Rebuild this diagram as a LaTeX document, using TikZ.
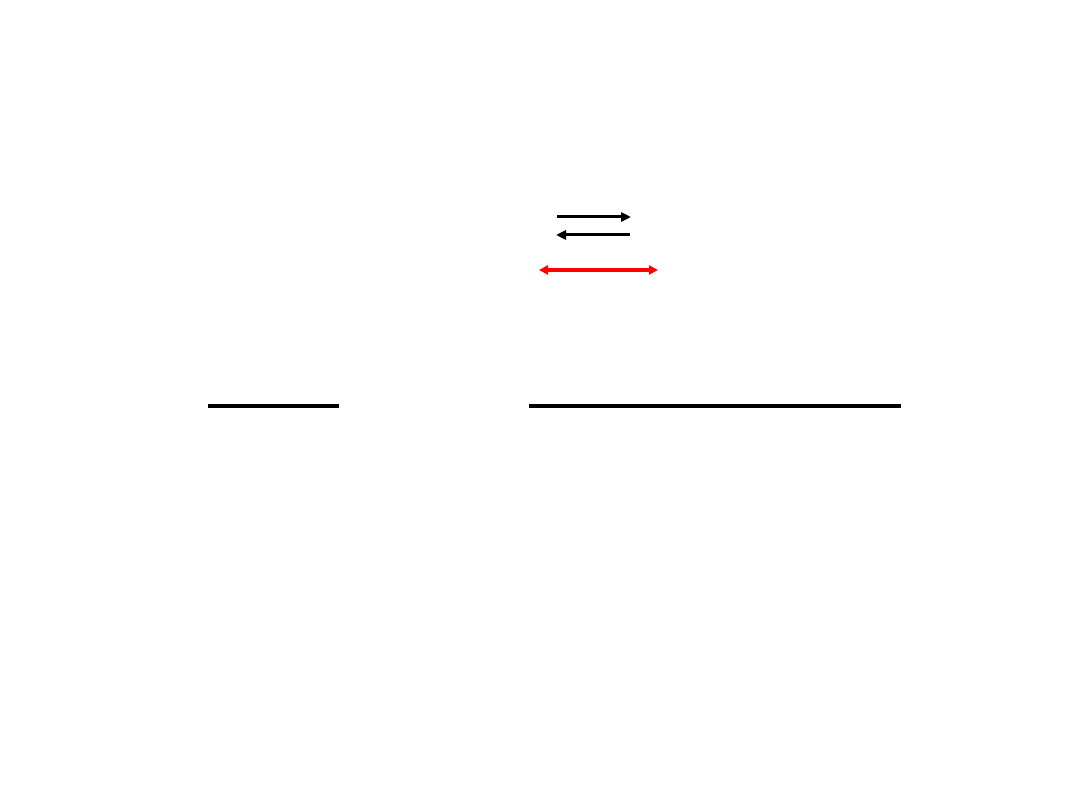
\documentclass[tikz,border=0pt]{standalone}
\usetikzlibrary{arrows.meta}
\begin{document}
\begin{tikzpicture}[x=1pt,y=-1pt,
  eqarrow/.style={line width=3pt,-{Triangle[length=10pt,width=9pt]}},
  redarrow/.style={line width=3.5pt,draw=red,{Triangle[length=9pt,width=9pt]}-{Triangle[length=9pt,width=9pt]}},
  level/.style={line width=4pt}]
\useasboundingbox (0,0) rectangle (1080,810);
\fill[white] (0,0) rectangle (1080,810);
\coordinate (a1s) at (557,217);
\coordinate (a1e) at (631,217);
\coordinate (a2s) at (630,235);
\coordinate (a2e) at (556,235);
\coordinate (rs) at (539,270);
\coordinate (re) at (658,270);
\coordinate (l1s) at (208,406);
\coordinate (l1e) at (339,406);
\coordinate (l2s) at (529,406);
\coordinate (l2e) at (901,406);
\draw[eqarrow] (a1s) -- (a1e);
\draw[eqarrow] (a2s) -- (a2e);
\draw[redarrow] (rs) -- (re);
\draw[level] (l1s) -- (l1e);
\draw[level] (l2s) -- (l2e);
\end{tikzpicture}
\end{document}
